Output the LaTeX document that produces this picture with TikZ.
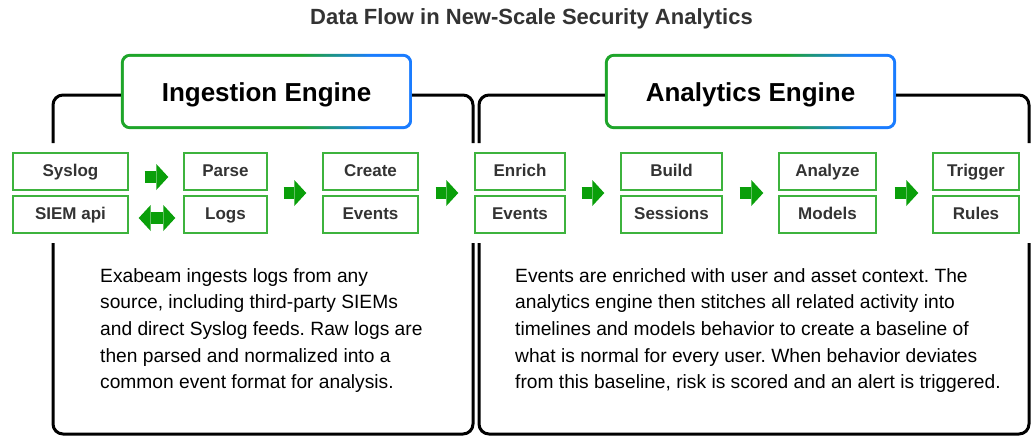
\documentclass[tikz,border=0pt]{standalone}
\usepackage{fontspec}
\setmainfont{Liberation Sans}
\usetikzlibrary{arrows.meta,calc,backgrounds}
\definecolor{agreen}{HTML}{0A9F0A}
\definecolor{bgreen}{HTML}{3DB33D}
\definecolor{tgreen}{HTML}{1EA52A}
\definecolor{tblue}{HTML}{1A7CFF}
\definecolor{lbl}{HTML}{333333}
\pgfdeclarehorizontalshading{engshade}{100bp}{color(0bp)=(tgreen); color(56bp)=(tgreen); color(68bp)=(tblue); color(100bp)=(tblue)}
\frenchspacing
\begin{document}
\begin{tikzpicture}[x=1pt,y=-1pt,
  gbox/.style={draw=bgreen, line width=1.4pt, minimum height=37pt, inner sep=0pt, text height=12.5pt, text depth=3.5pt, font=\fontsize{17}{20}\selectfont\bfseries, text=lbl},
  eng/.style={minimum width=291pt, minimum height=75pt, inner sep=0pt, text height=19pt, text depth=0pt, font=\fontsize{26}{30}\selectfont\bfseries, text=black},
  frame/.style={draw=black, line width=3pt, rounded corners=10pt},
  flow/.style={draw=agreen, line width=12pt, -{Triangle[length=12pt,width=26pt,line width=0pt]}, shorten <=16pt, shorten >=16pt},
  flowtwo/.style={draw=agreen, line width=12pt, {Triangle[length=12pt,width=26pt,line width=0pt]}-{Triangle[length=12pt,width=26pt,line width=0pt]}},
  body/.style={anchor=north west, inner sep=0pt, align=left, font=\fontsize{19.2}{26.7}\selectfont, text=black}]
\useasboundingbox (0,0) rectangle (1036,436);

\node[font=\fontsize{22}{26}\selectfont\bfseries, text=lbl] (title) at (531.5,19) {Data Flow in New-Scale Security Analytics};

\node[eng] (ing) at (266.5,91.5) {Ingestion Engine};
\node[eng] (ana) at (750.5,91.5) {Analytics Engine};

\begin{scope}[on background layer]
\foreach \n in {ing,ana}{
  \shade[shading=engshade, rounded corners=9pt] (\n.south west) rectangle (\n.north east);
  \fill[white, rounded corners=6.5pt] ([shift={(3pt,3pt)}]\n.south west) rectangle ([shift={(-3pt,-3pt)}]\n.north east);
}
\end{scope}

\node[gbox, minimum width=115pt] (syslog) at (70.5,171.5) {Syslog};
\node[gbox, minimum width=115pt] (siem) at (70.5,214.5) {SIEM api};
\node[gbox, minimum width=83pt] (parse) at (225.5,171.5) {Parse};
\node[gbox, minimum width=83pt] (logs) at (225.5,214.5) {Logs};
\node[gbox, minimum width=95pt] (create) at (370.5,171.5) {Create};
\node[gbox, minimum width=95pt] (cevents) at (370.5,214.5) {Events};
\node[gbox, minimum width=90pt] (enrich) at (520,171.5) {Enrich};
\node[gbox, minimum width=90pt] (eevents) at (520,214.5) {Events};
\node[gbox, minimum width=101pt] (build) at (671.5,171.5) {Build};
\node[gbox, minimum width=101pt] (sessions) at (671.5,214.5) {Sessions};
\node[gbox, minimum width=97pt] (analyze) at (827.5,171.5) {Analyze};
\node[gbox, minimum width=97pt] (models) at (827.5,214.5) {Models};
\node[gbox, minimum width=86pt] (trigger) at (976,171.5) {Trigger};
\node[gbox, minimum width=86pt] (rules) at (976,214.5) {Rules};

\coordinate (fy) at (0,95);
\draw[frame] (ing.west |- fy) -| (53,143);
\draw[frame] (53,243) |- (473,434) -- (473,243);
\draw[frame] (473,143) |- (ing.east |- fy);
\draw[frame] (ana.west |- fy) -| (479,143);
\draw[frame] (479,243) |- (1029,434) -- (1029,243);
\draw[frame] (1029,143) |- (ana.east |- fy);

\draw[flow, shorten <=16pt, shorten >=15pt] ([yshift=-5.5pt]syslog.east) -- ([yshift=-5.5pt]parse.west);
\draw[flowtwo, shorten <=10pt, shorten >=8pt] ([yshift=-3.5pt]siem.east) -- ([yshift=-3.5pt]logs.west);
\draw[flow] ($(parse.east)!0.5!(logs.east)$) -- ($(create.west)!0.5!(cevents.west)$);
\draw[flow, shorten <=17pt] ($(create.east)!0.5!(cevents.east)$) -- ($(enrich.west)!0.5!(eevents.west)$);
\draw[flow] ($(enrich.east)!0.5!(eevents.east)$) -- ($(build.west)!0.5!(sessions.west)$);
\draw[flow, shorten <=17pt, shorten >=15pt] ($(build.east)!0.5!(sessions.east)$) -- ($(analyze.west)!0.5!(models.west)$);
\draw[flow, shorten <=18pt, shorten >=14pt] ($(analyze.east)!0.5!(models.east)$) -- ($(trigger.west)!0.5!(rules.west)$);

\node[body] (ltext) at (100,268) {Exabeam ingests logs from any\\source, including third-party SIEMs\\and direct Syslog feeds. Raw logs are\\then parsed and normalized into a\\common event format for analysis.};
\node[body] (rtext) at (515,268) {Events are enriched with user and asset context. The\\analytics engine then stitches all related activity into\\timelines and models behavior to create a baseline of\\what is normal for every user. When behavior deviates\\from this baseline, risk is scored and an alert is triggered.};
\end{tikzpicture}
\end{document}
